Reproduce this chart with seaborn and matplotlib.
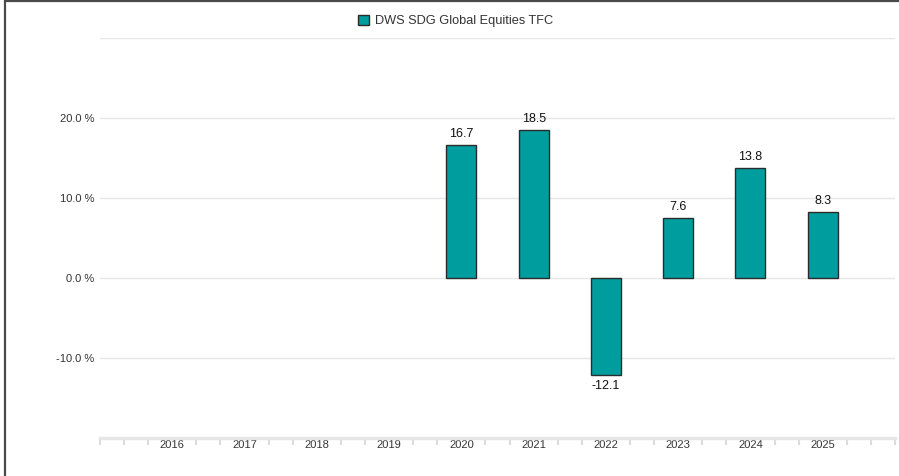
import matplotlib
matplotlib.use("Agg")
import matplotlib.pyplot as plt
from matplotlib.patches import Patch
from matplotlib.lines import Line2D
from matplotlib.ticker import FixedLocator
import seaborn as sns
import pandas as pd

# ---- data ----
years = ["2016", "2017", "2018", "2019", "2020", "2021", "2022", "2023", "2024", "2025"]
returns = [None, None, None, None, 16.7, 18.5, -12.1, 7.6, 13.8, 8.3]
series_name = "DWS SDG Global Equities TFC"
y_ticks = [-10, 0, 10, 20]
y_tick_labels = ["-10.0 %", "0.0 %", "10.0 %", "20.0 %"]

BAR = "#009D9E"
EDGE = "#2b2b2b"
GRID = "#e6e6e6"
TXT = "#333333"

sns.set_theme(style="white")
plt.rcParams["font.family"] = ["Liberation Sans", "DejaVu Sans"]

df = pd.DataFrame({"year": years, "ret": returns}).dropna()

fig = plt.figure(figsize=(8.99, 4.76), dpi=100)
W, H = 899, 476
ax = fig.add_axes([100 / W, 1 - 438.3 / H, 795 / W, 400 / H])

sns.barplot(data=df, x="year", y="ret", order=years, color=BAR, width=0.415,
            edgecolor=EDGE, linewidth=1.0, saturation=1, ax=ax, zorder=3)

ax.set_xlim(-1, len(years))
ax.set_ylim(-20, 30)
ax.set_xlabel("")
ax.set_ylabel("")

# grid lines
for g in [-10, 0, 10, 20, 30]:
    ax.axhline(g, color=GRID, lw=1.0, zorder=1)

for s in ["top", "right", "left"]:
    ax.spines[s].set_visible(False)
ax.spines["bottom"].set_color(GRID)
ax.spines["bottom"].set_linewidth(2.5)

ax.set_yticks(y_ticks)
ax.set_yticklabels(y_tick_labels)
ax.tick_params(axis="y", length=0, pad=4, labelsize=8, labelcolor=TXT)

ax.set_xticks(range(len(years)))
ax.set_xticklabels(years)
ax.tick_params(axis="x", which="major", length=0, pad=1.5, labelsize=8, labelcolor=TXT)
minor = []
for i in range(-1, len(years)):
    for f in (0, 1 / 3, 2 / 3):
        m = i + f
        if f != 0 or i == -1:
            minor.append(m)
minor.append(len(years))
ax.xaxis.set_minor_locator(FixedLocator(minor))
ax.tick_params(axis="x", which="minor", bottom=True, length=5, width=1.5,
               color="#dcdcdc", direction="out")

# data labels
for i, y in enumerate(years):
    v = returns[i]
    if v is None:
        continue
    if v >= 0:
        ax.annotate(f"{v:.1f}", (i, v), xytext=(0, 5), textcoords="offset pixels",
                    ha="center", va="bottom", fontsize=9, fontweight="normal",
                    color="#111111", zorder=4)
    else:
        ax.annotate(f"{v:.1f}", (i, v), xytext=(0, -5), textcoords="offset pixels",
                    ha="center", va="top", fontsize=9, fontweight="normal",
                    color="#111111", zorder=4)

# legend
handle = Patch(facecolor=BAR, edgecolor=EDGE, linewidth=1.0, label=series_name)
fig.legend(handles=[handle], loc="center", bbox_to_anchor=(455.5 / W, 1 - 21 / H),
           frameon=False, fontsize=9.2, handlelength=0.85, handleheight=0.85,
           handletextpad=0.5, labelcolor=TXT)

# frame lines (left and top)
fig.add_artist(Line2D([4.5 / W, 4.5 / W], [0, 1], transform=fig.transFigure,
                      color="#4a4a4a", lw=1.6))
fig.add_artist(Line2D([4.5 / W, 1], [1 - 1 / H, 1 - 1 / H], transform=fig.transFigure,
                      color="#4a4a4a", lw=1.6))

fig.savefig("out.png", dpi=100)
